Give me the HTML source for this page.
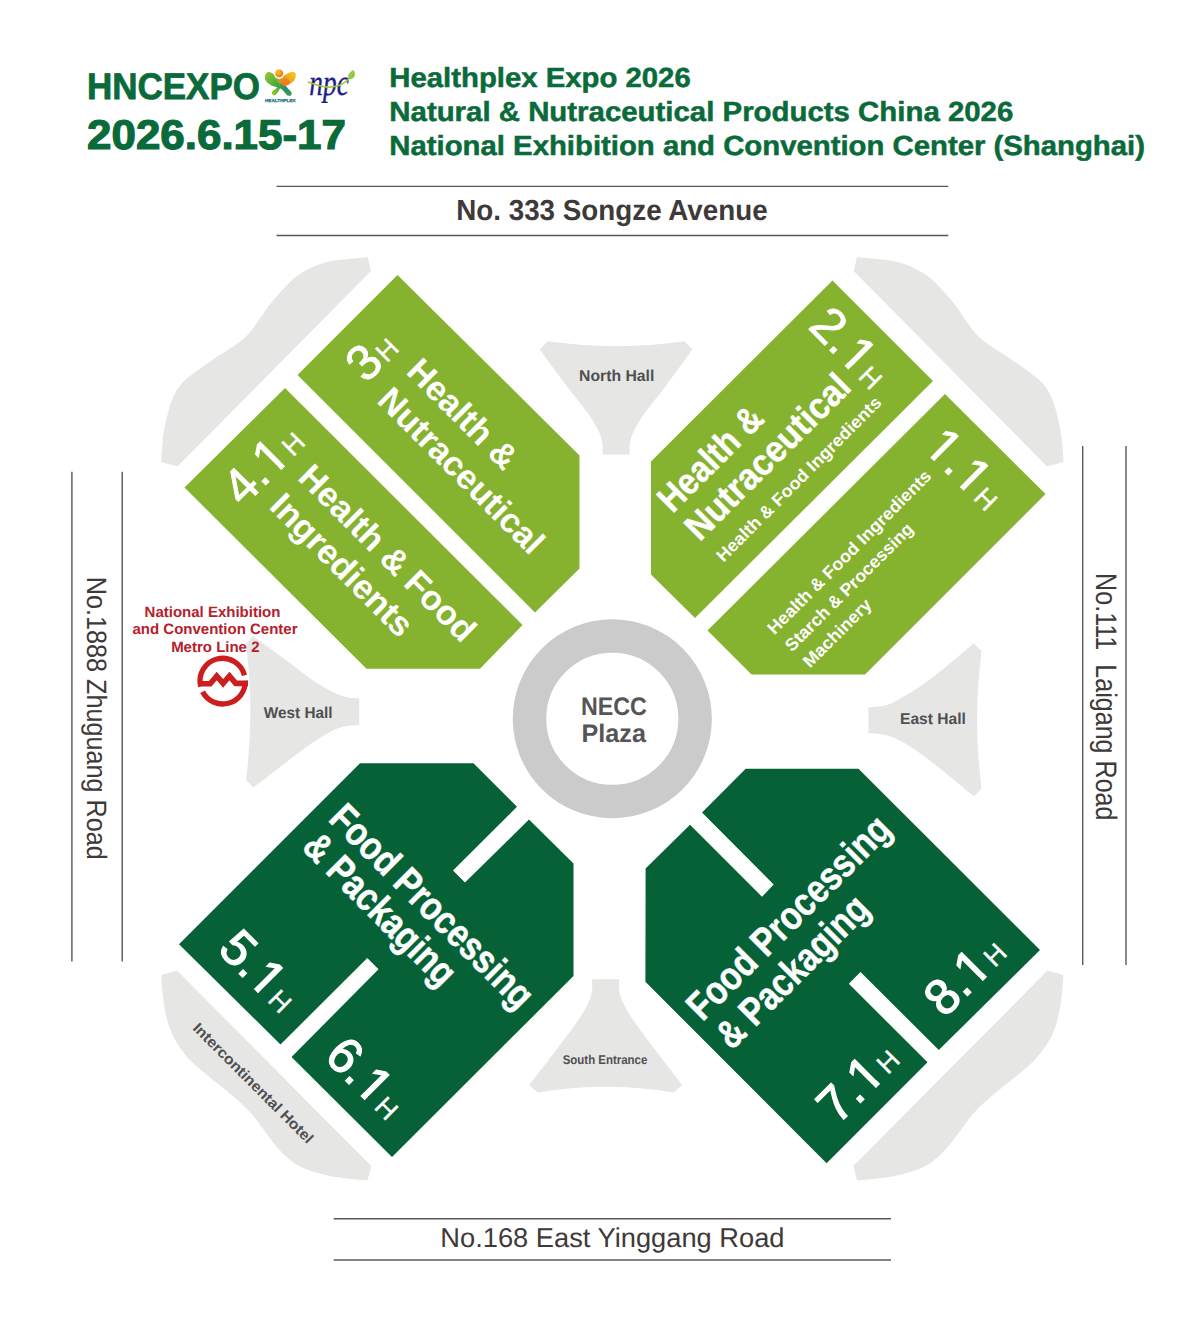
<!DOCTYPE html>
<html lang="en"><head><meta charset="utf-8"><title>HNC Expo 2026 Floor Plan</title>
<style>
html,body{margin:0;padding:0;background:#fff;}
body{width:1200px;height:1324px;overflow:hidden;}
svg{display:block;font-family:"Liberation Sans",sans-serif;text-rendering:geometricPrecision;}
</style></head><body>
<svg width="1200" height="1324" viewBox="0 0 1200 1324">
<rect width="1200" height="1324" fill="#fff"/>
<line x1="276.5" y1="186.4" x2="948.3" y2="186.4" stroke="#5A5757" stroke-width="1.4"/>
<line x1="276.5" y1="235.5" x2="948.3" y2="235.5" stroke="#5A5757" stroke-width="1.4"/>
<line x1="333.7" y1="1218.8" x2="891" y2="1218.8" stroke="#5A5757" stroke-width="1.4"/>
<line x1="333.7" y1="1260" x2="891" y2="1260" stroke="#5A5757" stroke-width="1.4"/>
<line x1="71.9" y1="471.8" x2="71.9" y2="961.6" stroke="#5A5757" stroke-width="1.4"/>
<line x1="122.2" y1="471.8" x2="122.2" y2="961.6" stroke="#5A5757" stroke-width="1.4"/>
<line x1="1082.7" y1="445.9" x2="1082.7" y2="965" stroke="#5A5757" stroke-width="1.4"/>
<line x1="1126" y1="445.9" x2="1126" y2="965" stroke="#5A5757" stroke-width="1.4"/>
<path d="M161,462 L177.5,466.5 L371,271 L367.5,257 C352,259 338,259 325,262.5 C310,267 298,274 290,282 C281,291 274,299 267.5,307.5 C260,318 253,330 245,337.5 C236,346 222,353 212.5,360 C201,368 190,375 182.5,382.5 C174,392 170,404 167.5,415 C165,425 163,434 162.5,442.5 Z" fill="#E6E6E5" />
<path d="M1063.6,462 L1047.1,466.5 L853.6,271 L857.1,257 C872.6,259 886.6,259 899.6,262.5 C914.6,267 926.6,274 934.6,282 C943.6,291 950.6,299 957.1,307.5 C964.6,318 971.6,330 979.6,337.5 C988.6,346 1002.6,353 1012.1,360 C1023.6,368 1034.6,375 1042.1,382.5 C1050.6,392 1054.6,404 1057.1,415 C1059.6,425 1061.6,434 1062.1,442.5 Z" fill="#E6E6E5" />
<path d="M161.25,975 L177,970.5 L371.25,1166 L367.5,1180.5 C352,1179 340,1178 330,1176 C316,1173 304,1169 295,1163.75 C286,1157 280,1151 275,1145 C267,1135 260,1124 252.5,1115 C243,1104 232,1095 222.5,1087.5 C211,1078 200,1070 192.5,1062.5 C183,1053 177,1044 172.5,1035 C168,1025 165,1013 163.75,1002.5 C162.5,993 161.5,984 161.25,975 Z" fill="#E6E6E5" />
<path d="M1063.35,975 L1047.6,970.5 L853.35,1166 L857.1,1180.5 C872.6,1179 884.6,1178 894.6,1176 C908.6,1173 920.6,1169 929.6,1163.75 C938.6,1157 944.6,1151 949.6,1145 C957.6,1135 964.6,1124 972.1,1115 C981.6,1104 992.6,1095 1002.1,1087.5 C1013.6,1078 1024.6,1070 1032.1,1062.5 C1041.6,1053 1047.6,1044 1052.1,1035 C1056.6,1025 1059.6,1013 1060.85,1002.5 C1062.1,993 1063.1,984 1063.35,975 Z" fill="#E6E6E5" />
<path d="M548,341.25 Q616.25,351 684.5,341.25 L692.5,349.5 C687.92,355.75 673.08,376.25 665,387 C656.92,397.75 649.25,406.50 644,414 C638.75,421.50 635.88,427.00 633.5,432 C631.12,437.00 630.38,440.25 629.75,444 C629.12,447.75 629.75,452.75 629.75,454.5 L602.5,454.5 C602.50,452.75 603.08,447.75 602.5,444 C601.92,440.25 601.33,437.00 599,432 C596.67,427.00 593.75,421.50 588.5,414 C583.25,406.50 575.62,397.75 567.5,387 C559.38,376.25 544.38,355.75 539.75,349.5 Z" fill="#E6E6E5" />
<path d="M592,979.25 L619.25,979.25 L619.25,979.25 C619.25,981.12 618.62,986.62 619.25,990.5 C619.88,994.38 620.62,997.50 623,1002.5 C625.38,1007.50 628.25,1012.75 633.5,1020.5 C638.75,1028.25 646.38,1038.25 654.5,1049 C662.62,1059.75 677.62,1079.00 682.25,1085 L674,1092.5 Q605.5,1081 537.5,1092.5 L529.25,1085 C533.88,1079.00 548.88,1059.75 557,1049 C565.12,1038.25 572.75,1028.25 578,1020.5 C583.25,1012.75 586.17,1007.50 588.5,1002.5 C590.83,997.50 591.42,994.38 592,990.5 C592.58,986.62 592.00,981.12 592,979.25 Z" fill="#E6E6E5" />
<path d="M253.1,636.1 L246,643.4 Q254.8,711.7 246,780 L253.4,787.5 C258.57,783.53 274.70,771.07 284.4,763.7 C294.10,756.33 303.67,748.75 311.6,743.3 C319.53,737.85 326.33,733.83 332,731 C337.67,728.17 341.07,727.32 345.6,726.3 C350.13,725.28 356.93,725.13 359.2,724.9 L359.2,698.4 C356.93,698.17 350.13,698.13 345.6,697 C341.07,695.87 337.67,694.53 332,691.6 C326.33,688.67 319.53,684.83 311.6,679.4 C303.67,673.97 294.15,666.22 284.4,659 C274.65,651.78 258.32,639.92 253.1,636.1 Z" fill="#E6E6E5" />
<path d="M973.7,643.6 L981.6,651.1 Q972.6,719.8 981.6,788.4 L974,796.5 C969.20,792.55 954.53,780.27 945.2,772.8 C935.87,765.33 925.93,757.27 918,751.7 C910.07,746.13 903.27,742.23 897.6,739.4 C891.93,736.57 888.87,735.72 884,734.7 C879.13,733.68 871.00,733.53 868.4,733.3 L868.4,707.5 C871.22,707.17 880.43,706.75 885.3,705.5 C890.17,704.25 892.15,702.95 897.6,700 C903.05,697.05 910.07,693.23 918,687.8 C925.93,682.37 935.92,674.77 945.2,667.4 C954.48,660.03 968.95,647.57 973.7,643.6 Z" fill="#E6E6E5" />
<circle cx="612.3" cy="718.8" r="82.8" fill="none" stroke="#CBCBCB" stroke-width="33.5"/>
<polygon points="397.5,275 297.5,375 535,612.5 579.5,568.5 579.5,455.5" fill="#85B22F"/>
<polygon points="285,388 184.5,487.5 366.5,668.7 480,668.7 522.5,625" fill="#85B22F"/>
<polygon points="832.5,280.5 933,381 695,618 651,574.5 651,461.5" fill="#85B22F"/>
<polygon points="945,394 1045.5,494 865,674.5 751.5,674.5 707.5,630.5" fill="#85B22F"/>
<polygon points="179,944.3 360,763.2 473.5,763.2 517,806.7 453,870.5 465,882.5 529,819.5 573.5,863.5 573.5,976 392,1157 291.5,1057 378.5,969.3 367.3,958 280.5,1044.5" fill="#066236"/>
<polygon points="745.7,768.8 858.5,768.8 1040,950 938.8,1050 860.5,972 848.8,983.7 927.5,1062.3 826.6,1163.2 645.4,981.8 645.6,868.4 690,824.7 762,896.7 773.7,884.5 702,812.5" fill="#066236"/>
<text transform="translate(87 99.3)" font-size="37" font-weight="bold" fill="#0A6A3A" text-anchor="start" textLength="173" lengthAdjust="spacingAndGlyphs" stroke="#0A6A3A" stroke-width="0.8">HNCEXPO</text>
<text transform="translate(87 148.8)" font-size="41.5" font-weight="bold" fill="#0A6A3A" text-anchor="start" textLength="259" lengthAdjust="spacingAndGlyphs" stroke="#0A6A3A" stroke-width="1.2">2026.6.15-17</text>
<text transform="translate(389.3 87.3)" font-size="27.6" font-weight="bold" fill="#0A6A3A" text-anchor="start" textLength="301.4" lengthAdjust="spacingAndGlyphs" stroke="#0A6A3A" stroke-width="0.5">Healthplex Expo 2026</text>
<text transform="translate(389.3 121)" font-size="27.6" font-weight="bold" fill="#0A6A3A" text-anchor="start" textLength="624" lengthAdjust="spacingAndGlyphs" stroke="#0A6A3A" stroke-width="0.5">Natural &amp; Nutraceutical Products China 2026</text>
<text transform="translate(389.3 154.5)" font-size="27.6" font-weight="bold" fill="#0A6A3A" text-anchor="start" textLength="755.7" lengthAdjust="spacingAndGlyphs" stroke="#0A6A3A" stroke-width="0.5">National Exhibition and Convention Center (Shanghai)</text>
<defs>
<linearGradient id="gA" x1="0" y1="0" x2="1" y2="1"><stop offset="0" stop-color="#9CCB2E"/><stop offset="0.45" stop-color="#4FAA3C"/><stop offset="0.75" stop-color="#2B8C6A"/><stop offset="1" stop-color="#3E9E5A"/></linearGradient>
<linearGradient id="gB" x1="1" y1="0" x2="0" y2="1"><stop offset="0" stop-color="#F2D21E"/><stop offset="0.35" stop-color="#F0A01C"/><stop offset="0.55" stop-color="#EC7A1C"/><stop offset="0.7" stop-color="#5FB034"/><stop offset="1" stop-color="#9CCB2E"/></linearGradient>
<radialGradient id="gH" cx="0.35" cy="0.3" r="0.8"><stop offset="0" stop-color="#F8C21E"/><stop offset="1" stop-color="#EC6F1B"/></radialGradient>
</defs>
<path d="M295.7,75.9 C296,74 295.8,73.2 294.8,72.6 C293.8,71.8 292.6,71.7 291.4,72 C289.6,72.4 288,73.2 286.6,74.1 C285,75.2 283.6,76.7 282.3,78 C281,79.2 279.8,80 278.8,80.6 C278.5,83 278,86 276.6,88 C275.6,89.2 274.2,89.8 273.2,90.6 C272.2,91.6 271.6,92.6 271.9,93.6 C272.3,94.8 273,95.4 274,95.4 C275,95.3 275.9,94.8 276.6,94 C277.8,92.5 278.8,90.6 279.7,88.9 C281,87.8 282.4,87 284,86.3 C286,85.5 288.2,84.8 290,83.7 C291.8,82.6 293.4,81.6 294.4,80.2 C295.2,78.9 295.5,77.4 295.7,75.9 Z" fill="url(#gB)"/>
<path d="M264.9,78.5 C264.7,76.5 265.2,74.6 266.2,73.3 C267.2,72.2 268.7,71.9 270.1,72.2 C271.8,72.6 273.3,73.7 274.5,75 C275.8,76.3 276.8,77.9 277.9,79.3 C279.6,81.4 281.8,83 284,84.5 C285.6,85.8 287,87.4 288.3,88.9 C289.5,90 290.7,91 291.4,92.3 C292,93.5 291.8,94.8 290.9,95.4 C289.8,96 288.5,96 287.5,95.4 C286,94.4 285,92.9 284,91.5 C282.8,90 281.4,88.8 279.7,88 C277.8,87.2 275.6,87 273.6,86.3 C271.3,85.6 269.2,84.4 267.5,82.8 C266.2,81.6 265.2,80.2 264.9,78.5 Z" fill="url(#gA)"/>
<path d="M278.8,80.6 C281,79.4 284,78.3 287,78.6 C289,80 290,82 290,83.7 C288.2,84.8 286,85.5 284,86.3 C282,84.8 280,82.6 278.8,80.6 Z" fill="#EE7D1C" opacity="0.85"/>
<path d="M273.6,74.2 L279.3,78.6 L279.6,84.4 L275.2,78.4 Z" fill="#7DBB36"/><path d="M279.3,78.6 L285.6,74.8 L284.6,79.6 L279.6,84.4 Z" fill="#EE8A1C"/><circle cx="279.2" cy="73.3" r="4.9" fill="none" stroke="#fff" stroke-width="1.3"/><circle cx="279.2" cy="73.3" r="3.9" fill="url(#gH)"/>
<text transform="translate(280.3 101.7)" font-size="4.3" font-weight="bold" fill="#1C6E7A" text-anchor="middle" textLength="30.8" lengthAdjust="spacingAndGlyphs" stroke="#1C6E7A" stroke-width="0.25">HEALTHPLEX</text>
<text transform="translate(309.3 94.5)" font-size="37" font-weight="normal" fill="#1E1E8C" text-anchor="start" textLength="39.5" lengthAdjust="spacingAndGlyphs" font-family="'Liberation Serif', serif" font-style="italic" stroke="#1E1E8C" stroke-width="0.35">npc</text>
<path d="M308.3,82.1 C312,83.4 315,84.5 318.7,85.4 C322,86.3 325.5,87.1 329,87.1 C333,87 337,86.3 340.3,85 C343.5,83.6 346,81.6 348.3,79.2" fill="none" stroke="#A4C932" stroke-width="1.6" stroke-linecap="round"/>
<path d="M348.4,79.2 C347.6,76.2 348.6,73.6 350.6,72 C351.6,71.2 352.8,70.6 353.8,70.1 C354.8,72.3 355.3,74.6 354.4,76.6 C353.4,78.6 350.9,79.5 348.4,79.2 Z" fill="#8DC63F"/>
<path d="M349,78.6 C350.5,76 352,73.5 353.6,71" fill="none" stroke="#C7E08A" stroke-width="0.5"/>
<text transform="translate(456.2 220)" font-size="29" font-weight="bold" fill="#3E3A39" text-anchor="start" textLength="311.5" lengthAdjust="spacingAndGlyphs" >No. 333 Songze Avenue</text>
<text transform="translate(440.3 1246.8)" font-size="27.2" font-weight="normal" fill="#3E3A39" text-anchor="start" textLength="344.2" lengthAdjust="spacingAndGlyphs" >No.168 East Yinggang Road</text>
<text transform="translate(86.7 576.8) rotate(90)" font-size="27.9" font-weight="normal" fill="#3E3A39" text-anchor="start" textLength="283" lengthAdjust="spacingAndGlyphs" >No.1888 Zhuguang Road</text>
<text transform="translate(1095.8 573.1) rotate(90)" font-size="29.6" font-weight="normal" fill="#3E3A39" text-anchor="start" textLength="247.4" lengthAdjust="spacingAndGlyphs" xml:space="preserve" style="white-space:pre">No.111  Laigang Road</text>
<text transform="translate(579 381)" font-size="15.8" font-weight="bold" fill="#4F4F51" text-anchor="start" textLength="75.3" lengthAdjust="spacingAndGlyphs" >North Hall</text>
<text transform="translate(263.8 717.5)" font-size="15.8" font-weight="bold" fill="#4F4F51" text-anchor="start" textLength="68.7" lengthAdjust="spacingAndGlyphs" >West Hall</text>
<text transform="translate(900 723.7)" font-size="15.8" font-weight="bold" fill="#4F4F51" text-anchor="start" textLength="65.8" lengthAdjust="spacingAndGlyphs" >East Hall</text>
<text transform="translate(562.7 1064)" font-size="12.7" font-weight="bold" fill="#4F4F51" text-anchor="start" textLength="84.6" lengthAdjust="spacingAndGlyphs" >South Entrance</text>
<text transform="translate(192 1029) rotate(45)" font-size="14.8" font-weight="bold" fill="#4F4F51" text-anchor="start" textLength="163" lengthAdjust="spacingAndGlyphs" >Intercontinental Hotel</text>
<text transform="translate(613.9 714.5)" font-size="25.4" font-weight="bold" fill="#555557" text-anchor="middle" textLength="66" lengthAdjust="spacingAndGlyphs" >NECC</text>
<text transform="translate(613.7 742)" font-size="25.4" font-weight="bold" fill="#555557" text-anchor="middle" textLength="64.5" lengthAdjust="spacingAndGlyphs" >Plaza</text>
<text transform="translate(212.5 616.6)" font-size="15" font-weight="bold" fill="#B5202A" text-anchor="middle" >National Exhibition</text>
<text transform="translate(215 634)" font-size="15" font-weight="bold" fill="#B5202A" text-anchor="middle" >and Convention Center</text>
<text transform="translate(215.3 651.5)" font-size="15" font-weight="bold" fill="#B5202A" text-anchor="middle" >Metro Line 2</text>
<g fill="none" stroke="#CC1E1E" stroke-width="5.3"><path d="M200.7,686.5 A22.6,22.6 0 1 1 244.5,675.3"/><path d="M245.3,680.9 A22.6,22.6 0 0 1 202.6,691.7"/><path d="M198,683.7 L210.2,683.7 L216.75,676 L223.1,683.4 L229.5,676 L235.7,683.4 L248,683.4" stroke-width="5.6" stroke-miterlimit="10"/></g>
<text transform="translate(404.9 372.8) rotate(45)" font-size="34.5" font-weight="bold" fill="#fff" text-anchor="start" >Health &amp;</text>
<text transform="translate(375.8 401.8) rotate(45)" font-size="34.5" font-weight="bold" fill="#fff" text-anchor="start" >Nutraceutical</text>
<text transform="translate(296.6 478.8) rotate(45)" font-size="34.5" font-weight="bold" fill="#fff" text-anchor="start" >Health &amp; Food</text>
<text transform="translate(267.9 507.6) rotate(45)" font-size="34.5" font-weight="bold" fill="#fff" text-anchor="start" >Ingredients</text>
<text transform="translate(366.1 384.2) rotate(-45)" font-size="50" fill="#fff" stroke="#fff" stroke-width="0.8">3<tspan font-size="27" dx="1.5" stroke-width="0.3">H</tspan></text>
<clipPath id="ck0" clipPathUnits="userSpaceOnUse"><path d="M-20,-70 H160 V30 H-20 Z M43.20,-5.15 H53.80 V3 H43.20 Z M59.15,-5.15 H69.20 V3 H59.15 Z" clip-rule="evenodd"/></clipPath>
<text transform="translate(242.9 507.8) rotate(-45)" font-size="50" fill="#fff" stroke="#fff" stroke-width="0.8" clip-path="url(#ck0)">4.1<tspan font-size="27" dx="1.5" stroke-width="0.3">H</tspan></text>
<text transform="translate(672.5 514) rotate(-45)" font-size="37" font-weight="bold" fill="#fff" text-anchor="start" textLength="132" lengthAdjust="spacingAndGlyphs" stroke="#fff" stroke-width="0.4">Health &amp;</text>
<text transform="translate(699.65 542.2) rotate(-45)" font-size="37" font-weight="bold" fill="#fff" text-anchor="start" textLength="217" lengthAdjust="spacingAndGlyphs" stroke="#fff" stroke-width="0.4">Nutraceutical</text>
<text transform="translate(723.4 562.8) rotate(-45)" font-size="17.5" font-weight="bold" fill="#fff" text-anchor="start" textLength="225" lengthAdjust="spacingAndGlyphs" >Health &amp; Food Ingredients</text>
<text transform="translate(774.4 635.2) rotate(-45)" font-size="17.5" font-weight="bold" fill="#fff" text-anchor="start" textLength="223.5" lengthAdjust="spacingAndGlyphs" >Health &amp; Food Ingredients</text>
<text transform="translate(792.1 652.4) rotate(-45)" font-size="17.5" font-weight="bold" fill="#fff" text-anchor="start" textLength="173" lengthAdjust="spacingAndGlyphs" >Starch &amp; Processing</text>
<text transform="translate(810 668.6) rotate(-45)" font-size="17.5" font-weight="bold" fill="#fff" text-anchor="start" textLength="88.7" lengthAdjust="spacingAndGlyphs" >Machinery</text>
<text transform="translate(806.9 327.4) rotate(45)" font-size="50" fill="#fff" stroke="#fff" stroke-width="0.8" clip-path="url(#ck0)">2.1<tspan font-size="27" dx="1.5" stroke-width="0.3">H</tspan></text>
<clipPath id="ck1" clipPathUnits="userSpaceOnUse"><path d="M-20,-70 H160 V30 H-20 Z M1.50,-5.15 H12.10 V3 H1.50 Z M17.45,-5.15 H27.50 V3 H17.45 Z M43.20,-5.15 H53.80 V3 H43.20 Z M59.15,-5.15 H69.20 V3 H59.15 Z" clip-rule="evenodd"/></clipPath>
<text transform="translate(922.1 448.6) rotate(45)" font-size="50" fill="#fff" stroke="#fff" stroke-width="0.8" clip-path="url(#ck1)">1.1<tspan font-size="27" dx="1.5" stroke-width="0.3">H</tspan></text>
<text transform="translate(327.3 820.3) rotate(45)" font-size="39.5" font-weight="bold" fill="#fff" text-anchor="start" textLength="270" lengthAdjust="spacingAndGlyphs" stroke="#fff" stroke-width="0.5">Food Processing</text>
<text transform="translate(300.8 848.6) rotate(45)" font-size="39.5" font-weight="bold" fill="#fff" text-anchor="start" textLength="198" lengthAdjust="spacingAndGlyphs" stroke="#fff" stroke-width="0.5">&amp; Packaging</text>
<clipPath id="ck2" clipPathUnits="userSpaceOnUse"><path d="M-20,-70 H160 V30 H-20 Z M43.20,-5.40 H53.55 V3 H43.20 Z M59.40,-5.40 H69.20 V3 H59.40 Z" clip-rule="evenodd"/></clipPath>
<text transform="translate(216.4 950.8) rotate(45)" font-size="50" fill="#fff" stroke="#fff" stroke-width="1.3" clip-path="url(#ck2)">5.1<tspan font-size="27" dx="1.5" stroke-width="0.3">H</tspan></text>
<text transform="translate(322.9 1057.8) rotate(45)" font-size="50" fill="#fff" stroke="#fff" stroke-width="1.3" clip-path="url(#ck2)">6.1<tspan font-size="27" dx="1.5" stroke-width="0.3">H</tspan></text>
<text transform="translate(702.5 1022.2) rotate(-45)" font-size="39.5" font-weight="bold" fill="#fff" text-anchor="start" textLength="270" lengthAdjust="spacingAndGlyphs" stroke="#fff" stroke-width="0.5">Food Processing</text>
<text transform="translate(731.7 1051.1) rotate(-45)" font-size="39.5" font-weight="bold" fill="#fff" text-anchor="start" textLength="198" lengthAdjust="spacingAndGlyphs" stroke="#fff" stroke-width="0.5">&amp; Packaging</text>
<text transform="translate(837.6 1125.4) rotate(-45)" font-size="50" fill="#fff" stroke="#fff" stroke-width="1.3" clip-path="url(#ck2)">7.1<tspan font-size="27" dx="1.5" stroke-width="0.3">H</tspan></text>
<text transform="translate(944.6 1018.4) rotate(-45)" font-size="50" fill="#fff" stroke="#fff" stroke-width="1.3" clip-path="url(#ck2)">8.1<tspan font-size="27" dx="1.5" stroke-width="0.3">H</tspan></text>
</svg>
</body></html>
